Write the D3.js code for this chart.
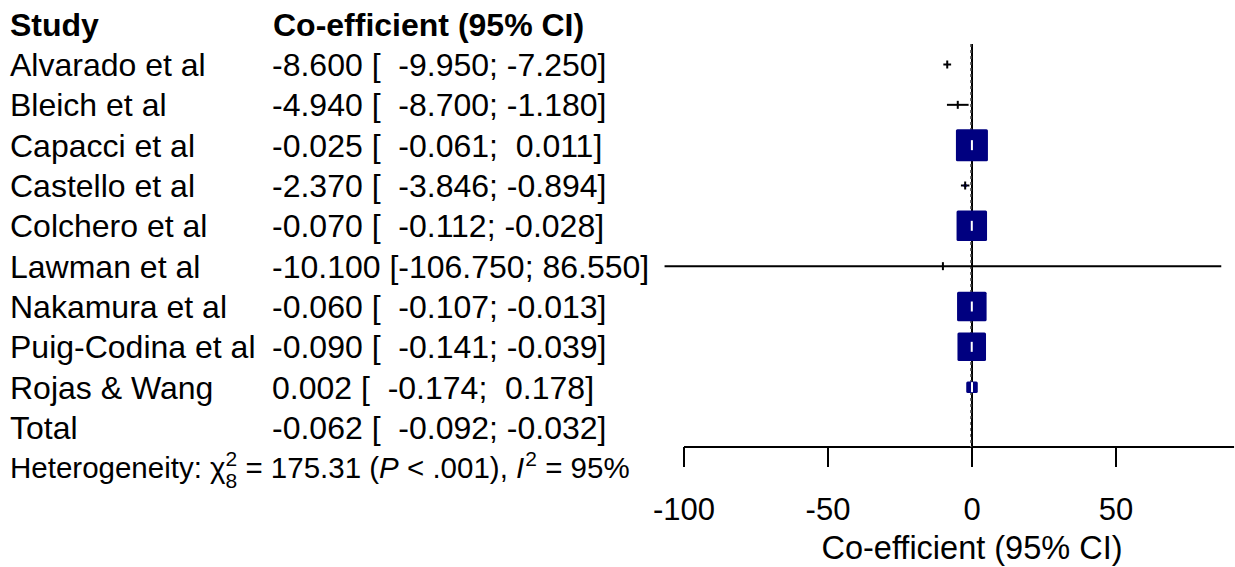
<!DOCTYPE html>
<html>
<head>
<meta charset="utf-8">
<script src="https://cdn.jsdelivr.net/npm/d3@7"></script>
<style>
  html, body { margin: 0; padding: 0; background: #fff; }
  text { font-family: "Liberation Sans", Arial, Helvetica, sans-serif; white-space: pre; }
</style>
</head>
<body>
<div id="chart" style="width:1235px;height:567px"></div>
<script>
// study data
const studies = ["Alvarado et al", "Bleich et al", "Capacci et al", "Castello et al", "Colchero et al",
                 "Lawman et al", "Nakamura et al", "Puig-Codina et al", "Rojas & Wang"];
const estimates = [-8.600, -4.940, -0.025, -2.370, -0.070, -10.100, -0.060, -0.090, 0.002];
const lowers    = [-9.950, -8.700, -0.061, -3.846, -0.112, -106.750, -0.107, -0.141, -0.174];
const uppers    = [-7.250, -1.180, 0.011, -0.894, -0.028, 86.550, -0.013, -0.039, 0.178];
const weights   = [0.1, 0.03, 27.0, 0.3, 24.5, 0.001, 23.0, 21.5, 3.5];
const totalEst = -0.062, totalLower = -0.092, totalUpper = -0.032;
const xTicks = [-100, -50, 0, 50];

const width = 1235, height = 567;
const svg = d3.select("#chart").append("svg")
    .attr("width", width).attr("height", height)
    .attr("viewBox", `0 0 ${width} ${height}`);

const fs = 32;

// scales
const x = d3.scaleLinear().domain([-100, 50]).range([684, 1116]);
const y = d3.scaleLinear().domain([0, 9]).range([64.5, 427.5]);
const boxSize = d3.scaleSqrt().domain([0, 27]).range([0, 32]);

const f3 = d3.format(".3f");
const fmt = v => f3(v).replace("−", "-");
const pad = (s, n) => " ".repeat(Math.max(0, n - s.length)) + s;
const ciText = (e, l, u) => `${fmt(e)} [${pad(fmt(l), 8)}; ${pad(fmt(u), 6)}]`;

const textDy = 11.5;

// headers
svg.append("text").attr("x", 10).attr("y", y(-1) + textDy)
    .style("font-size", fs + "px").style("font-weight", "bold").text("Study");
svg.append("text").attr("x", 273).attr("y", y(-1) + textDy)
    .style("font-size", fs + "px").style("font-weight", "bold").text("Co-efficient (95% CI)");

// rows text
const rows = studies.map((s, i) => ({ name: s, est: estimates[i], lo: lowers[i], hi: uppers[i], w: weights[i], i }));
svg.selectAll("text.study").data(rows).enter().append("text")
    .attr("class", "study").attr("x", 10).attr("y", d => y(d.i) + textDy)
    .style("font-size", fs + "px").text(d => d.name);
svg.selectAll("text.ci").data(rows).enter().append("text")
    .attr("class", "ci").attr("x", 272).attr("y", d => y(d.i) + textDy)
    .style("font-size", fs + "px").text(d => ciText(d.est, d.lo, d.hi));

svg.append("text").attr("x", 10).attr("y", y(9) + textDy)
    .style("font-size", fs + "px").text("Total");
svg.append("text").attr("x", 272).attr("y", y(9) + textDy)
    .style("font-size", fs + "px").text(ciText(totalEst, totalLower, totalUpper));

// axis line + ticks
const axisY = 447;
svg.append("line").attr("x1", x(-100)).attr("x2", x(91))
    .attr("y1", axisY).attr("y2", axisY).attr("stroke", "#000").attr("stroke-width", 2);
svg.selectAll("line.tick").data(xTicks).enter().append("line")
    .attr("x1", d => x(d)).attr("x2", d => x(d))
    .attr("y1", axisY).attr("y2", axisY + 20).attr("stroke", "#000").attr("stroke-width", 2);
svg.selectAll("text.tick").data(xTicks).enter().append("text")
    .attr("x", d => x(d)).attr("y", 520).attr("text-anchor", "middle")
    .style("font-size", "31px").text(d => d);
svg.append("text").attr("x", x(0)).attr("y", 559).attr("text-anchor", "middle")
    .style("font-size", "32.5px").text("Co-efficient (95% CI)");

// reference lines
svg.append("line").attr("x1", x(0)).attr("x2", x(0)).attr("y1", 44).attr("y2", axisY)
    .attr("stroke", "#000").attr("stroke-width", 2);
svg.append("line").attr("x1", x(totalEst) - 1).attr("x2", x(totalEst) - 1).attr("y1", 44).attr("y2", axisY)
    .attr("stroke", "#666").attr("stroke-width", 1.5).attr("stroke-dasharray", "3,3");

// CI lines
svg.selectAll("line.ci").data(rows).enter().append("line")
    .attr("x1", d => x(d.lo)).attr("x2", d => x(d.hi))
    .attr("y1", d => y(d.i)).attr("y2", d => y(d.i))
    .attr("stroke", "#000").attr("stroke-width", 2);

// squares
svg.selectAll("rect.box").data(rows).enter().append("rect")
    .attr("x", d => x(d.est) - boxSize(d.w) / 2)
    .attr("y", d => y(d.i) - boxSize(d.w) / 2)
    .attr("width", d => boxSize(d.w)).attr("height", d => boxSize(d.w))
    .attr("rx", 1.5)
    .attr("fill", "#000080");

// estimate ticks
svg.selectAll("line.mark").data(rows).enter().append("line")
    .attr("x1", d => x(d.est)).attr("x2", d => x(d.est))
    .attr("y1", d => y(d.i) - (boxSize(d.w) > 9 ? 5 : 4))
    .attr("y2", d => y(d.i) + (boxSize(d.w) > 9 ? 5 : 4))
    .attr("stroke", d => boxSize(d.w) > 9 ? "#fff" : "#000").attr("stroke-width", 2);

// total diamond
const ty = y(9);
svg.append("polygon")
    .attr("points", [[x(totalLower), ty], [x(totalEst), ty - 9], [x(totalUpper), ty], [x(totalEst), ty + 9]].join(" "))
    .attr("fill", "#808080").attr("stroke", "#000").attr("stroke-width", 1);

// heterogeneity line
const hy = 478, hs = 29.5;
let cx = 10;
function put(str, opts = {}) {
    const t = svg.append("text").attr("x", cx).attr("y", hy + (opts.dy || 0))
        .style("font-size", (opts.size || hs) + "px")
        .style("font-style", opts.italic ? "italic" : "normal")
        .text(str);
    const w = t.node().getComputedTextLength();
    if (!opts.noAdvance) cx += w;
    return w;
}
put("Heterogeneity: χ");
const w1 = put("2", { size: 21, dy: -12, noAdvance: true });
const w2 = put("8", { size: 21, dy: 10, noAdvance: true });
cx += Math.max(w1, w2);
put(" = 175.31 (");
put("P", { italic: true });
put(" < .001), ");
put("I", { italic: true });
cx += 1;
put("2", { size: 21, dy: -12 });
put(" = 95%");
</script>
</body>
</html>
